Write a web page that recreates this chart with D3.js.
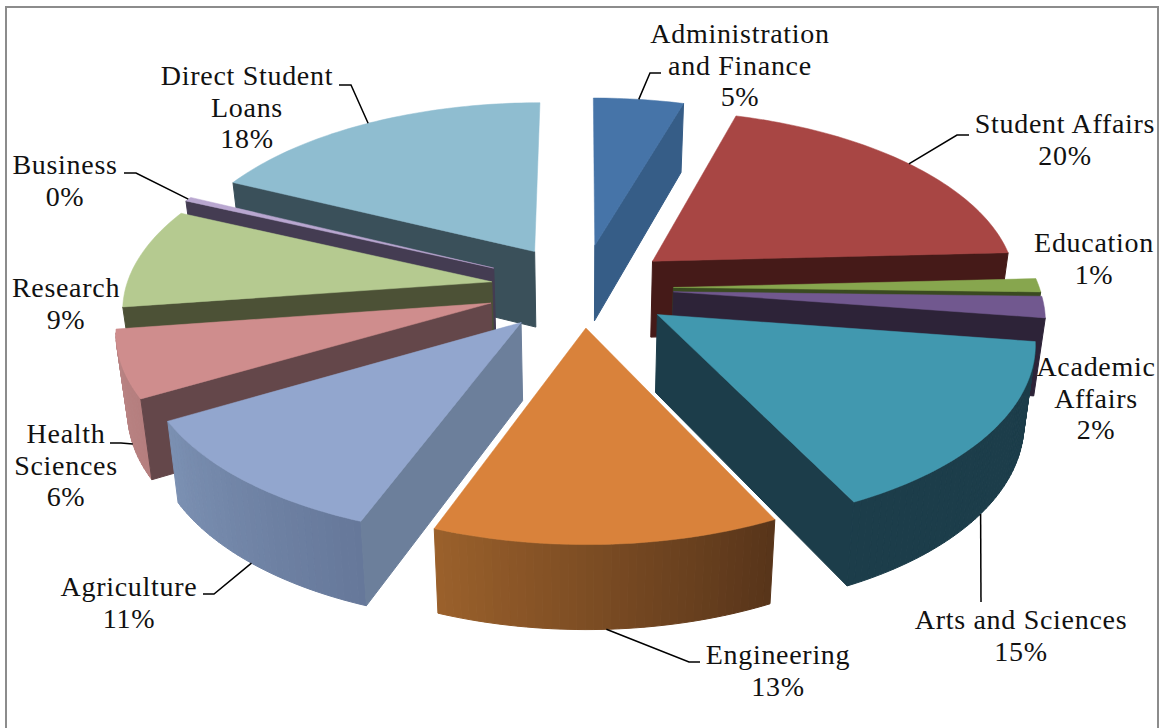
<!DOCTYPE html>
<html>
<head>
<meta charset="utf-8">
<script src="https://cdnjs.cloudflare.com/ajax/libs/d3/7.8.5/d3.min.js"></script>
<style>
    html, body { margin: 0; padding: 0; background: #fff; overflow: hidden; }
    svg { display: block; }
</style>
</head>
<body>
<div id="chart"></div>
<script>
// Data
const categories = ["Administration and Finance", "Student Affairs", "Education", "Academic Affairs",
    "Arts and Sciences", "Engineering", "Agriculture", "Health Sciences", "Research", "Business", "Direct Student Loans"];
const shares = [4.6, 19.6, 1.2, 1.9, 15.45, 13, 11, 6, 9, 0.4, 17.85];

// Slice styling
const explosion = [0.25, 0.25, 0.25, 0.25, 0.25, 0.22, 0.25, 0.26, 0.25, 0.27, 0.25];
const topColors = ["#4674a8", "#a84644", "#87a64e", "#71588f", "#4198af", "#d9823b", "#92a6ce", "#cf8d8d", "#b5ca90", "#b9a7d0", "#8fbdd0"];
const sideColors = ["#365d87", "#451a18", "#3a4a20", "#2d2338", "#1c3d4a", "#5a361a", "#6c7f9b", "#64474a", "#4c5136", "#443c52", "#3a505a"];
const wallStart = ["#365d87", "#451a18", "#3a4a20", "#2d2338", "#1c3d4a", "#58351a", "#66789a", "#b57e7e", "#4c5136", "#443c52", "#3a505a"];
const wallEnd = ["#365d87", "#451a18", "#3a4a20", "#2d2338", "#1c3d4a", "#9a602b", "#7b90b2", "#b98484", "#4c5136", "#443c52", "#3a505a"];

// Labels: lines, centre, first baseline, leader elbow
const labelLines = [["Administration", "and Finance"], ["Student Affairs"], ["Education"], ["Academic", "Affairs"],
    ["Arts and Sciences"], ["Engineering"], ["Agriculture"], ["Health", "Sciences"], ["Research"], ["Business"], ["Direct Student", "Loans"]];
const labelPos = [[740, 43], [1065, 133], [1094, 252], [1096, 376], [1021, 629], [778, 664], [129, 596], [66, 443], [66, 297], [65, 174], [247, 85]];
const leaderElbows = [
    [[661, 73], [650, 73]], [[969, 135], [957, 135]], null, null,
    [[981, 602], [981, 602]], [[700, 662], [689, 662]], [[203, 594], [214, 594]],
    [[110, 443], [121, 443]], null, [[124, 173], [136, 173]], [[339, 85], [351, 85]]
];

const width = 1160;
const height = 728;

const svg = d3.select("#chart")
    .append("svg")
    .attr("width", width)
    .attr("height", height);

svg.append("rect")
    .attr("x", 6)
    .attr("y", 7)
    .attr("width", 1152)
    .attr("height", 760)
    .attr("fill", "#fff")
    .attr("stroke", "#8c8c8c")
    .attr("stroke-width", 2);

// Perspective projection of the tilted disc
const centerX = 582;
const centerY = 288;
const radiusX = 366;
const radiusY = 177;
const persp = 0.13;
const bottomShrink = 0.975;

const scaleX = d3.scaleLinear().domain([-1, 1]).range([centerX - radiusX, centerX + radiusX]);
const scaleY = d3.scaleLinear().domain([-1, 1]).range([centerY - radiusY, centerY + radiusY]);
const scaleDepth = d3.scaleLinear().domain([-1.2, 1.22]).range([69, 85]);

function project(x, y, down) {
    const s = 1 / (1 - persp * y);
    return [scaleX(x * s * (down ? bottomShrink : 1)), scaleY(y * s) + (down ? scaleDepth(y) : 0)];
}

const pie = d3.pie().sort(null).value(d => d);
const arcs = pie(shares).map((a, i) => {
    const mid = (a.startAngle + a.endAngle) / 2;
    return {
        i: i,
        startAngle: a.startAngle,
        endAngle: a.endAngle,
        mid: mid,
        ox: Math.sin(mid) * explosion[i],
        oy: -Math.cos(mid) * explosion[i]
    };
});

const line = d3.line();

function rimPoint(d, angle) {
    return [d.ox + Math.sin(angle), d.oy - Math.cos(angle)];
}

// true when extruding the edge a-b downwards comes out of the slice
function facesViewer(a, b, inside) {
    const ex = b[0] - a[0];
    const ey = b[1] - a[1];
    const sideDown = ex * 1;
    const sideInside = ex * (inside[1] - a[1]) - ey * (inside[0] - a[0]);
    return sideDown * sideInside < 0;
}

function quad(g, p, q, color) {
    const a = project(p[0], p[1], false);
    const b = project(q[0], q[1], false);
    const c = project(q[0], q[1], true);
    const d = project(p[0], p[1], true);
    g.append("path")
        .attr("d", line([a, b, c, d]) + "Z")
        .attr("fill", color)
        .attr("stroke", color)
        .attr("stroke-width", 1);
}

// Back slices first, front slices over them
const drawOrder = arcs.slice().sort((a, b) => d3.ascending(-Math.cos(a.mid), -Math.cos(b.mid)));

const pieGroup = svg.append("g");

drawOrder.forEach(d => {
    const g = pieGroup.append("g").attr("class", "slice");
    const steps = Math.max(4, Math.ceil((d.endAngle - d.startAngle) / 0.02));
    const angles = d3.range(steps + 1).map(k => d.startAngle + (d.endAngle - d.startAngle) * k / steps);
    const rim = angles.map(t => rimPoint(d, t));
    const apex = [d.ox, d.oy];
    const midRim = rimPoint(d, d.mid);
    const inside = project((apex[0] + midRim[0]) / 2, (apex[1] + midRim[1]) / 2, false);

    // Outer wall in thin strips so it can be shaded across the slice
    const shade = d3.interpolateRgb(wallStart[d.i], wallEnd[d.i]);
    rim.slice(0, -1).forEach((p, k) => {
        const pa = project(p[0], p[1], false);
        const pb = project(rim[k + 1][0], rim[k + 1][1], false);
        if (facesViewer(pa, pb, inside)) {
            quad(g, p, rim[k + 1], shade(k / (steps - 1)));
        }
    });

    // Radial sides, skipping edges seen almost end-on
    [rim[0], rim[rim.length - 1]].forEach(p => {
        const pa = project(apex[0], apex[1], false);
        const pb = project(p[0], p[1], false);
        if (Math.abs(pb[0] - pa[0]) > 10 && facesViewer(pa, pb, inside)) {
            quad(g, apex, p, sideColors[d.i]);
        }
    });

    // Top face
    g.append("path")
        .attr("d", line([apex].concat(rim).map(p => project(p[0], p[1], false))) + "Z")
        .attr("fill", topColors[d.i])
        .attr("stroke", topColors[d.i])
        .attr("stroke-width", 0.5);
});

// Leader lines run from the middle of each slice's rim to the elbow
const leaders = svg.append("g");

arcs.forEach(d => {
    const elbow = leaderElbows[d.i];
    if (!elbow) return;
    const p = rimPoint(d, d.mid);
    const end = project(p[0], p[1], p[1] > 0);
    leaders.append("path")
        .attr("d", line(elbow.concat([end])))
        .attr("fill", "none")
        .attr("stroke", "#000")
        .attr("stroke-width", 1.5);
});

// Data labels
const labels = svg.append("g")
    .attr("font-family", "'Liberation Serif', serif")
    .attr("font-size", "28px")
    .attr("letter-spacing", "0.7px")
    .attr("text-anchor", "middle")
    .attr("fill", "#111");

arcs.forEach(d => {
    const lines = labelLines[d.i].concat([Math.round(shares[d.i]) + "%"]);
    const t = labels.append("text").attr("class", "label");
    lines.forEach((s, k) => {
        t.append("tspan")
            .attr("x", labelPos[d.i][0])
            .attr("y", labelPos[d.i][1] + k * 31.5)
            .text(s);
    });
});
</script>
</body>
</html>
